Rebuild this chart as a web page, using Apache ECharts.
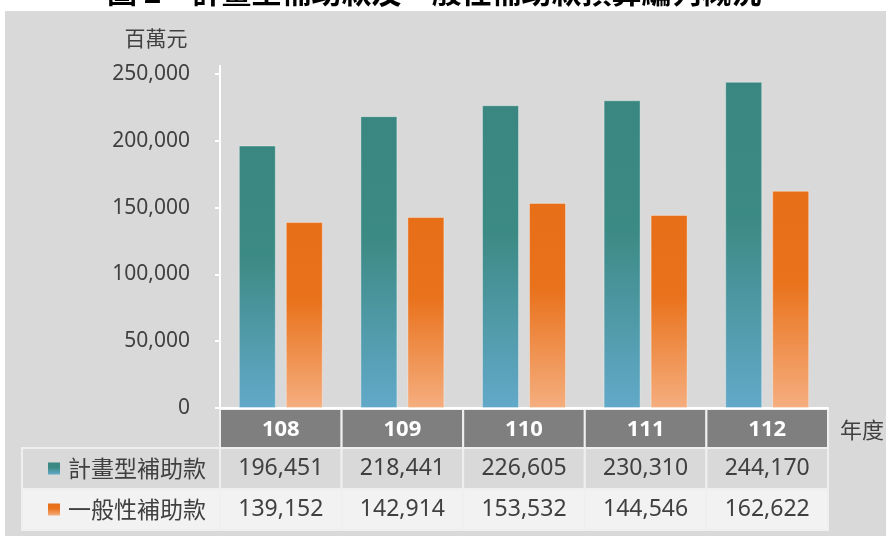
<!DOCTYPE html>
<html><head><meta charset="utf-8">
<script src="https://cdn.jsdelivr.net/npm/echarts@6/dist/echarts.min.js"></script>
<style>html,body{margin:0;padding:0;background:#fff}#c{width:886px;height:536px}</style>
</head><body><div id="c"></div>
<script>
const years = ['108', '109', '110', '111', '112'];
const planned = [196451, 218441, 226605, 230310, 244170];
const general = [139152, 142914, 153532, 144546, 162622];
const seriesNames = ['計畫型補助款', '一般性補助款'];
const yUnit = '百萬元';
const xUnit = '年度';
const titleText = '圖 2　計畫型補助款及一般性補助款預算編列概況';

const CJK = '"Noto Sans CJK TC","Noto Sans",sans-serif';
const NUM = '"Noto Sans","Noto Sans CJK TC",sans-serif';
const TXT = '#404040';

const gridL = 220, gridR = 828, gridT = 74, gridB = 408;

function grad(c0, c1, c2) {
  return new echarts.graphic.LinearGradient(0, 0, 0, 1, [
    { offset: 0, color: c0 }, { offset: 0.42, color: c1 }, { offset: 1, color: c2 }
  ]);
}
const tealG = () => grad('#398780', '#3c8a84', '#62a9c9');
const orgG = () => grad('#e86e18', '#e9721c', '#f5ae7f');

const chart = echarts.init(document.getElementById('c'), null, { renderer: 'canvas' });

const fmt = v => v.toLocaleString('en-US');

const g = [];
// white strips outside the grey panel
g.push({ type: 'rect', shape: { x: 0, y: 0, width: 886, height: 11 }, style: { fill: '#fff' }, z: 100 });
g.push({ type: 'rect', shape: { x: 0, y: 0, width: 5, height: 536 }, style: { fill: '#fff' }, z: 100 });
g.push({ type: 'text', x: 107, y: -8, z: 101, style: { text: titleText, font: 'bold 30px ' + CJK, fill: '#000', verticalAlign: 'middle' } });
// units
g.push({ type: 'text', x: 156, y: 38, style: { text: yUnit, font: '21px ' + CJK, fill: TXT, align: 'center', verticalAlign: 'middle' } });
g.push({ type: 'text', x: 862, y: 430, style: { text: xUnit, font: '22px ' + CJK, fill: TXT, align: 'center', verticalAlign: 'middle' } });
// axis line extension above max
g.push({ type: 'line', shape: { x1: gridL, y1: 65, x2: gridL, y2: gridT }, style: { stroke: '#fff', lineWidth: 2 } });

// table
const colW = (gridR - gridL) / years.length;
const hdrT = 409, hdrB = 448, r1B = 489, r2B = 530, labL = 22;
const border = '#efefef';
years.forEach((y, i) => {
  const x = gridL + i * colW;
  g.push({ type: 'rect', shape: { x: x, y: hdrT, width: colW, height: hdrB - hdrT }, style: { fill: '#7f7f7f', stroke: border, lineWidth: 2 } });
  g.push({ type: 'text', x: x + colW / 2, y: (hdrT + hdrB) / 2 + 1, style: { text: y, font: 'bold 22px ' + NUM, fill: '#fff', align: 'center', verticalAlign: 'middle' } });
});
const rows = [
  { name: seriesNames[0], vals: planned, fill: '#d9d9d9', top: hdrB, bot: r1B, sw: tealG() },
  { name: seriesNames[1], vals: general, fill: '#f2f2f2', top: r1B, bot: r2B, sw: orgG() }
];
rows.forEach(r => {
  const cy = (r.top + r.bot) / 2;
  g.push({ type: 'rect', shape: { x: labL, y: r.top, width: gridL - labL, height: r.bot - r.top }, style: { fill: r.fill, stroke: border, lineWidth: 2 } });
  g.push({ type: 'rect', shape: { x: 48, y: cy - 6, width: 12, height: 12 }, style: { fill: r.sw } });
  g.push({ type: 'text', x: 68, y: cy, style: { text: r.name, font: '23px ' + CJK, fill: TXT, verticalAlign: 'middle' } });
  r.vals.forEach((v, i) => {
    const x = gridL + i * colW;
    g.push({ type: 'rect', shape: { x: x, y: r.top, width: colW, height: r.bot - r.top }, style: { fill: r.fill, stroke: border, lineWidth: 2 } });
    g.push({ type: 'text', x: x + colW / 2, y: cy, style: { text: fmt(v), font: '23px ' + NUM, fill: TXT, align: 'center', verticalAlign: 'middle' } });
  });
});

chart.setOption({
  backgroundColor: '#d9d9d9',
  animation: false,
  grid: { left: gridL, right: 886 - gridR, top: gridT, bottom: 536 - gridB, containLabel: false },
  xAxis: {
    type: 'category', data: years,
    axisLine: { show: true, lineStyle: { color: '#fff', width: 2 } },
    axisTick: { show: false }, axisLabel: { show: false }, splitLine: { show: false }
  },
  yAxis: {
    type: 'value', min: 0, max: 250000, interval: 50000,
    axisLine: { show: true, lineStyle: { color: '#fff', width: 2 } },
    axisTick: { show: true, length: 5, lineStyle: { color: '#fff', width: 2 } },
    axisLabel: { margin: 30, color: TXT, fontSize: 21, fontFamily: NUM, formatter: v => fmt(v) },
    splitLine: { show: false }
  },
  series: [
    { name: seriesNames[0], type: 'bar', data: planned, barWidth: 37, barGap: '27%',
      itemStyle: { color: tealG(), borderColor: 'rgba(255,255,255,0.35)', borderWidth: 1 } },
    { name: seriesNames[1], type: 'bar', data: general, barWidth: 37,
      itemStyle: { color: orgG(), borderColor: 'rgba(255,255,255,0.35)', borderWidth: 1 } }
  ],
  graphic: { elements: g }
});
</script></body></html>
